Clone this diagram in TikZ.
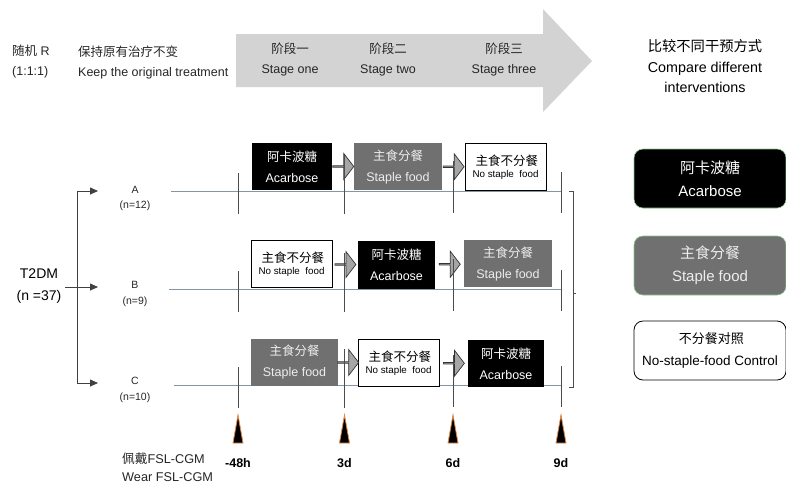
\documentclass[tikz,border=0pt]{standalone}
\usepackage{fontspec}
\setmainfont{Liberation Sans}
\newfontfamily\cjk{Noto Sans CJK SC}
\usetikzlibrary{arrows.meta,shapes.arrows,calc}
\newcommand{\fsz}[2]{\fontsize{#1}{#2}\selectfont}
\definecolor{bigarrow}{HTML}{D3D3D3}
\definecolor{boxgray}{HTML}{707070}
\definecolor{smallarrow}{HTML}{A6A6A6}
\definecolor{tline}{HTML}{8595A8}
\definecolor{mark}{HTML}{E08A4A}
\definecolor{legline}{HTML}{8CC68C}
\tikzset{
  txt/.style={inner sep=0pt, align=center, text=black!85},
  trt/.style={draw=none, inner sep=0pt, align=center, anchor=center, minimum height=47pt},
  blkbox/.style={trt, fill=black, text=white, font=\fsz{12.5}{21}},
  grybox/.style={trt, fill=boxgray, text=white!93!black, font=\fsz{12.5}{21}},
  whtbox/.style={trt, draw=black, line width=0.9pt, fill=white, text=black},
  stepar/.style={single arrow, draw=black!80, line width=0.7pt, fill=smallarrow,
    minimum height=21pt, minimum width=26pt, single arrow head extend=6.5pt,
    single arrow tip angle=105, inner sep=0pt},
  branch/.style={draw=black!75, line width=0.8pt, -{Triangle[length=8pt,width=7pt]}},
  timeline/.style={draw=tline, line width=0.8pt},
  tickln/.style={draw=black!70, line width=0.7pt},
  marker/.style={draw=mark, line width=0.8pt, fill=black},
  legbox/.style={rounded corners=9pt, minimum width=152pt, minimum height=59pt, align=center, inner sep=0pt},
}
\begin{document}
\begin{tikzpicture}[x=1pt,y=-1pt]
\useasboundingbox (0,0) rectangle (786,485);

% big grey arrow
\fill[bigarrow] (236,34) -- (543,34) -- (543,9) -- (592,61) -- (543,112) -- (543,87) -- (236,87) -- cycle;

% header texts
\node[txt, anchor=west, align=left, font=\fsz{12.5}{20}] (rand) at (12,62) {{\cjk 随机} R\\(1:1:1)};
\node[txt, anchor=west, align=left, font=\fsz{12.5}{20}] (keep) at (78,62) {{\cjk 保持原有治疗不变}\\Keep the original treatment};
\node[txt, font=\fsz{12.5}{20}] (st1) at (290,60) {{\cjk 阶段一}\\Stage one};
\node[txt, font=\fsz{12.5}{20}] (st2) at (388,60) {{\cjk 阶段二}\\Stage two};
\node[txt, font=\fsz{12.5}{20}] (st3) at (504,60) {{\cjk 阶段三}\\Stage three};
\node[txt, font=\fsz{14.3}{20.5}, text=black] (cmp) at (705,66.5) {{\cjk 比较不同干预方式}\\Compare different\\interventions};

% T2DM and groups
\node[txt, font=\fsz{14}{22}, text=black] (t2dm) at (39,286) {T2DM\\(n =37)};
\node[txt, font=\fsz{10.5}{15.5}] (gA) at (135,198.5) {A\\(n=12)};
\node[txt, font=\fsz{10.5}{15.5}] (gB) at (135,294) {B\\(n=9)};
\node[txt, font=\fsz{10.5}{15.5}] (gC) at (135,390) {C\\(n=10)};

\coordinate (jA) at (77,191);
\coordinate (jB) at (77,287);
\coordinate (jC) at (77,383);
\coordinate (eA) at (98,191);
\coordinate (eB) at (98,287);
\coordinate (eC) at (98,383);
\coordinate (sB) at (65,287);
\draw[draw=black!75, line width=0.8pt] (jA) -- (jC);
\draw[branch] (jA) -- (eA);
\draw[branch] (sB) -- (eB);
\draw[branch] (jC) -- (eC);

% timelines
\coordinate (lA0) at (171,191); \coordinate (lA1) at (562,191);
\coordinate (lB0) at (169,289); \coordinate (lB1) at (562,289);
\coordinate (lC0) at (174,385); \coordinate (lC1) at (562,385);
\draw[timeline] (lA0) -- (lA1);
\draw[timeline] (lB0) -- (lB1);
\draw[timeline] (lC0) -- (lC1);

% row A
\node[blkbox, minimum width=80pt] (a1) at (292,166.5) {{\cjk 阿卡波糖}\\Acarbose};
\node[grybox, minimum width=88pt] (a2) at (398,166.5) {{\cjk 主食分餐}\\Staple food};
\node[whtbox, minimum width=81pt] (a3) at (505.5,167) {{\cjk\fsz{12.5}{21} 主食不分餐}\\{\fsz{9.8}{21}No staple\ \ food}};
% row B
\node[whtbox, minimum width=81pt] (b1) at (291.5,264) {{\cjk\fsz{12.5}{21} 主食不分餐}\\{\fsz{9.8}{21}No staple\ \ food}};
\node[blkbox, minimum width=77pt, minimum height=48pt] (b2) at (396.5,265) {{\cjk 阿卡波糖}\\Acarbose};
\node[grybox, minimum width=88pt] (b3) at (508,263.5) {{\cjk 主食分餐}\\Staple food};
% row C
\node[grybox, minimum width=87pt] (c1) at (294.5,362) {{\cjk 主食分餐}\\Staple food};
\node[whtbox, minimum width=81pt] (c2) at (398.5,363) {{\cjk\fsz{12.5}{21} 主食不分餐}\\{\fsz{9.8}{21}No staple\ \ food}};
\node[blkbox, minimum width=76pt] (c3) at (506,363.5) {{\cjk 阿卡波糖}\\Acarbose};

% step arrows
\node[stepar] (pa1) at ($(a1.east)!0.5!(a2.west)$) {};
\node[stepar] (pa2) at ($(a2.east)!0.5!(a3.west)$) {};
\node[stepar] (pb1) at ($(b1.east)!0.5!(b2.west)$) {};
\node[stepar] (pb2) at ($(b2.east)!0.5!(b3.west)$) {};
\node[stepar] (pc1) at ($(c1.east)!0.5!(c2.west)$) {};
\node[stepar] (pc2) at ($(c2.east)!0.5!(c3.west)$) {};

% ticks
\foreach \y in {191,289,385}{
  \draw[tickln] (238,\y-18) -- (238,\y+23);
  \draw[tickln] (344.5,\y-36) -- (344.5,\y+23);
  \draw[tickln] (453,\y-30) -- (453,\y+22);
  \draw[tickln] (561,\y-19) -- (561,\y+22);
}

% bracket
\draw[tickln] (569,191) -- (573,191) -- (573,387) -- (569,387);
\draw[tickln] (573,293) -- (576,293);

% markers and times
\foreach \x/\lab in {238/-48h,344.5/3d,453/6d,561/9d}{
  \draw[marker] (\x-5,443) -- (\x,415) -- (\x+5,443) -- cycle;
  \node[txt, font=\bfseries\fsz{12.5}{15}, text=black] at (\x,463) {\lab};
}
\node[txt, anchor=west, align=left, font=\fsz{12.7}{18}] (wear) at (122,467) {{\cjk 佩戴}FSL-CGM\\Wear FSL-CGM};

% legend
\node[legbox, fill=black, draw=legline, line width=0.6pt, text=white, font=\fsz{15}{23}] (lg1) at (710,178.5) {{\cjk 阿卡波糖}\\Acarbose};
\node[legbox, fill=boxgray, draw=legline, line width=0.6pt, text=white!93!black, font=\fsz{15}{23}] (lg2) at (710,265.5) {{\cjk 主食分餐}\\Staple food};
\node[legbox, fill=white, draw=black, line width=0.8pt, text=black, font=\fsz{13.5}{22}] (lg3) at (710,350.5) {{\cjk\fsz{13}{22} 不分餐对照}\\No-staple-food Control};
\end{tikzpicture}
\end{document}
